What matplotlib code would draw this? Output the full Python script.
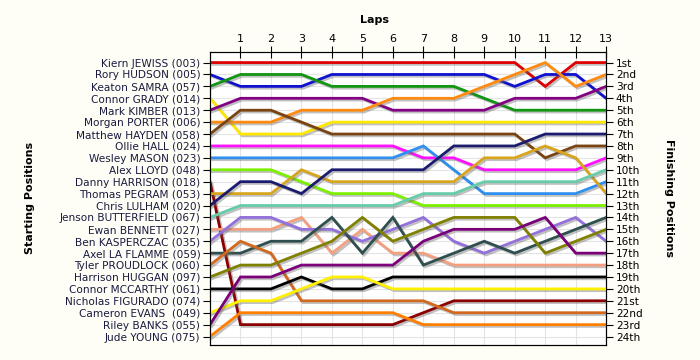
import matplotlib
matplotlib.use('Agg')
import matplotlib.pyplot as plt
import matplotlib.patheffects as pe

# Datos: posições por volta (volta 0 = largada)
laps = list(range(14))
riders = ['Kiern JEWISS (003)', 'Rory HUDSON (005)', 'Keaton SAMRA (057)', 'Connor GRADY (014)',
          'Mark KIMBER (013)', 'Morgan PORTER (006)', 'Matthew HAYDEN (058)', 'Ollie HALL (024)',
          'Wesley MASON (023)', 'Alex LLOYD (048)', 'Danny HARRISON (018)', 'Thomas PEGRAM (053)',
          'Chris LULHAM (020)', 'Jenson BUTTERFIELD (067)', 'Ewan BENNETT (027)', 'Ben KASPERCZAC (035)',
          'Axel LA FLAMME (059)', 'Tyler PROUDLOCK (060)', 'Harrison HUGGAN (097)', 'Connor MCCARTHY (061)',
          'Nicholas FIGURADO (074)', 'Cameron EVANS  (049)', 'Riley BANKS (055)', 'Jude YOUNG (075)']
finish_labels = ['1st', '2nd', '3rd', '4th', '5th', '6th', '7th', '8th', '9th', '10th', '11th', '12th',
                 '13th', '14th', '15th', '16th', '17th', '18th', '19th', '20th', '21st', '22nd', '23rd', '24th']

pos = [
    [1, 1, 1, 1, 1, 1, 1, 1, 1, 1, 1, 3, 1, 1],
    [2, 3, 3, 3, 2, 2, 2, 2, 2, 2, 3, 2, 2, 4],
    [3, 2, 2, 2, 3, 3, 3, 3, 3, 4, 5, 5, 5, 5],
    [4, 7, 7, 7, 6, 6, 6, 6, 6, 6, 6, 6, 6, 6],
    [5, 4, 4, 4, 4, 4, 5, 5, 5, 5, 4, 4, 4, 3],
    [6, 6, 6, 5, 5, 5, 4, 4, 4, 3, 2, 1, 3, 2],
    [7, 5, 5, 6, 7, 7, 7, 7, 7, 7, 7, 9, 8, 8],
    [8, 8, 8, 8, 8, 8, 8, 9, 9, 10, 10, 10, 10, 9],
    [9, 9, 9, 9, 9, 9, 9, 8, 10, 12, 12, 12, 12, 11],
    [10, 10, 10, 11, 12, 12, 12, 13, 13, 13, 13, 13, 13, 13],
    [11, 23, 23, 23, 23, 23, 23, 22, 21, 21, 21, 21, 21, 21],
    [12, 12, 12, 10, 11, 11, 11, 11, 11, 9, 9, 8, 9, 12],
    [13, 11, 11, 12, 10, 10, 10, 10, 8, 8, 8, 7, 7, 7],
    [14, 13, 13, 13, 13, 13, 13, 12, 12, 11, 11, 11, 11, 10],
    [15, 15, 15, 14, 17, 15, 17, 17, 18, 18, 18, 18, 18, 18],
    [16, 14, 14, 15, 15, 16, 15, 14, 16, 17, 16, 15, 14, 16],
    [17, 17, 16, 16, 14, 17, 14, 18, 17, 16, 17, 16, 15, 14],
    [18, 16, 17, 21, 21, 21, 21, 21, 22, 22, 22, 22, 22, 22],
    [19, 18, 18, 17, 16, 14, 16, 15, 14, 14, 14, 17, 16, 15],
    [20, 20, 20, 19, 20, 20, 19, 19, 19, 19, 19, 19, 19, 19],
    None,  # sem dados de volta
    [22, 21, 21, 20, 19, 19, 20, 20, 20, 20, 20, 20, 20, 20],
    [23, 19, 19, 18, 18, 18, 18, 16, 15, 15, 15, 14, 17, 17],
    [24, 22, 22, 22, 22, 22, 22, 23, 23, 23, 23, 23, 23, 23],
]

cores = ['#e00000', '#1010d0', '#119611', '#ffe800', '#820082', '#ff8a10', '#7a4412', '#ff10ff',
         '#2f8fef', '#7cf000', '#8b0000', '#d8a51e', '#1b1b70', '#66ccaa', '#f4a080', '#9370db',
         '#2f4f4f', '#d2691e', '#808000', '#000000', '#888888', '#fff000', '#7a007a', '#ff8000']

fig = plt.figure(figsize=(7, 3.6), dpi=100, facecolor='#fefef6')
ax = fig.add_axes([0.30, 0.042, 0.566, 0.814])
ax.set_facecolor('white')

sombra = [pe.SimpleLineShadow(offset=(1.3, -1.3), shadow_color='#666666', alpha=0.4), pe.Normal()]
for i in range(len(riders)):
    if pos[i] is None:
        continue
    ax.plot(laps, pos[i], color=cores[i], lw=2.0, solid_joinstyle='miter',
            path_effects=sombra, zorder=3)

ax.set_xlim(0, 13)
ax.set_ylim(24.7, 0.1)

ax.set_xticks(laps[1:])
ax.xaxis.tick_top()
ax.tick_params(axis='x', direction='inout', length=8, labelsize=8, pad=2)

ax.set_yticks(range(1, 25))
ax.set_yticklabels(riders, fontsize=7.6, color='#1a1a40')
ax.tick_params(axis='y', direction='out', length=5, pad=2)

ax2 = ax.twinx()
ax2.set_ylim(ax.get_ylim())
ax2.set_yticks(range(1, 25))
ax2.set_yticklabels(finish_labels, fontsize=7.6)
ax2.tick_params(axis='y', direction='out', length=5, pad=2)

ax.grid(True, color='#e4e4e4', lw=0.8, zorder=0)

fig.text(0.535, 0.935, 'Laps', ha='center', fontsize=8, fontweight='bold')
fig.text(0.043, 0.45, 'Starting Positions', rotation=90, va='center', ha='center', fontsize=8, fontweight='bold')
fig.text(0.955, 0.45, 'Finishing Positions', rotation=-90, va='center', ha='center', fontsize=8, fontweight='bold')

fig.savefig('out.png', dpi=100, facecolor=fig.get_facecolor())
